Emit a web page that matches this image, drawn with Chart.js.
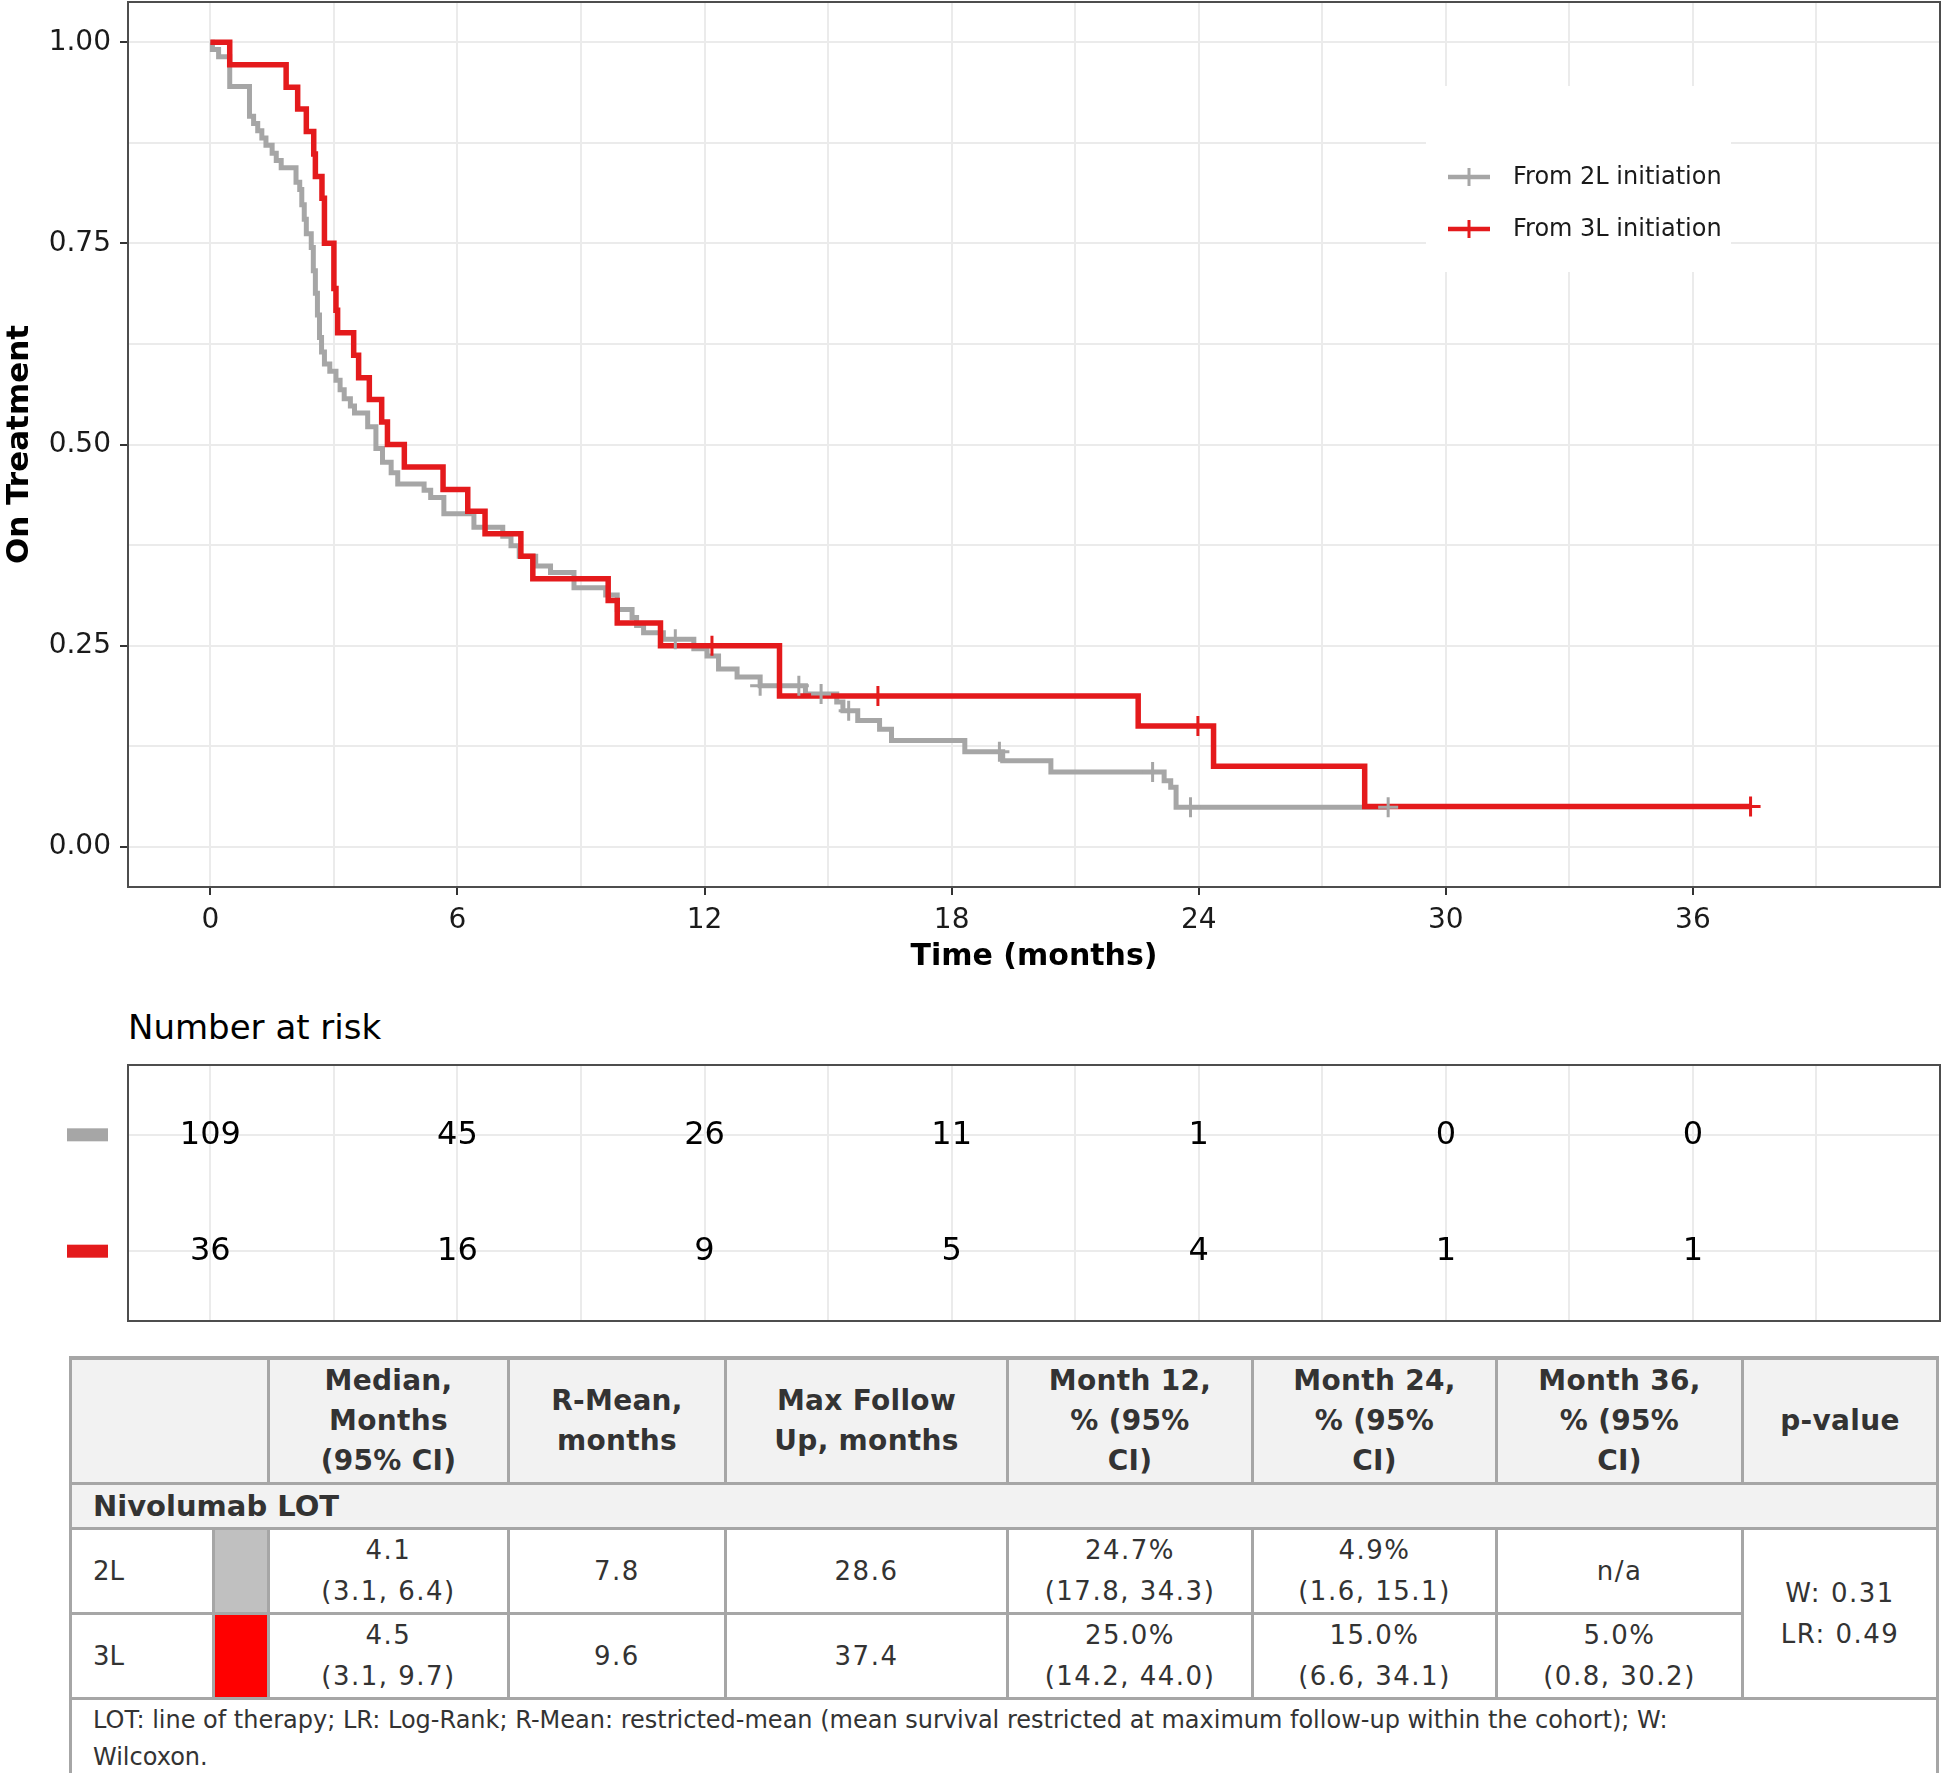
<!DOCTYPE html>
<html>
<head>
<meta charset="utf-8">
<script src="https://cdn.jsdelivr.net/npm/chart.js@4.4.1/dist/chart.umd.min.js"></script>
<style>
  html, body { margin: 0; padding: 0; background: #fff; }
  body { width: 1944px; height: 1773px; position: relative; overflow: hidden; font-family: 'DejaVu Sans', sans-serif; }
  #km { position: absolute; left: 0; top: 0; }
  #riskTitle { position: absolute; left: 128px; top: 1005px; font-size: 34px; line-height: 44px; color: #000; }
  #risk { position: absolute; left: 0; top: 1050px; }
  #summary { position: absolute; left: 69px; top: 1356px; width: 1867px; border-collapse: collapse; table-layout: fixed; color: #333; }
  #summary td, #summary th { border: 3px solid #a6a6a6; padding: 0; text-align: center; vertical-align: middle; white-space: pre-line; }
  #summary th { background: #f2f2f2; font-weight: bold; font-size: 28px; line-height: 40px; letter-spacing: 0.3px; height: 122px; }
  #summary td { font-size: 26px; line-height: 41px; letter-spacing: 1.5px; height: 80px; }
  #summary tr.grp td { background: #f2f2f2; font-weight: bold; text-align: left; padding-left: 21px; font-size: 29px; letter-spacing: 0; height: 42px; line-height: 42px; }
  #summary td.lbl { text-align: left; padding-left: 21px; letter-spacing: 0; }
  #summary tr.foot td { text-align: left; padding: 2px 0 0 21px; font-size: 24px; line-height: 37px; letter-spacing: 0; vertical-align: top; height: 68px; }
  #summary thead tr th { border-top-width: 4px; }
</style>
</head>
<body>
<canvas id="km" width="1944" height="1000"></canvas>
<div id="riskTitle">Number at risk</div>
<canvas id="risk" width="1944" height="280"></canvas>
<table id="summary"></table>
<script>
// Kaplan-Meier step points (month of drop, proportion still on treatment after the drop)
const months2L = [0, 0.05, 0.2, 0.47, 0.95, 1.05, 1.15, 1.25, 1.35, 1.5, 1.6, 1.72, 2.08, 2.17, 2.22, 2.28, 2.33,
  2.45, 2.5, 2.55, 2.6, 2.65, 2.7, 2.77, 2.9, 3.05, 3.15, 3.25, 3.4, 3.5, 3.82, 4.02, 4.18, 4.39, 4.55,
  5.19, 5.35, 5.67, 6.4, 7.1, 7.3, 7.5, 7.9, 8.26, 8.83, 9.6, 9.88, 10.24, 10.35, 10.52, 11.0, 11.74,
  12.06, 12.34, 12.79, 13.35, 14.45, 15.21, 15.36, 15.72, 16.25, 16.54, 18.32, 19.24, 20.41, 23.16, 23.32, 23.45];
const surv2L = [1, 0.991, 0.982, 0.945, 0.908, 0.899, 0.890, 0.881, 0.872, 0.862, 0.853, 0.844, 0.826, 0.817, 0.798, 0.780, 0.762,
  0.745, 0.716, 0.688, 0.661, 0.633, 0.615, 0.600, 0.591, 0.580, 0.568, 0.557, 0.548, 0.539, 0.522, 0.495, 0.478, 0.465, 0.451,
  0.443, 0.434, 0.414, 0.397, 0.386, 0.374, 0.361, 0.349, 0.341, 0.322, 0.313, 0.295, 0.285, 0.275, 0.266, 0.258, 0.246,
  0.237, 0.221, 0.211, 0.200, 0.190, 0.180, 0.169, 0.157, 0.146, 0.132, 0.118, 0.107, 0.093, 0.082, 0.074, 0.049];
const censor2L = [11.29, 13.35, 14.29, 14.83, 15.5, 19.16, 22.88, 23.8, 28.6];

const months3L = [0, 0.47, 1.84, 2.12, 2.33, 2.51, 2.55, 2.71, 2.77, 3.0, 3.05, 3.09, 3.48, 3.6, 3.86, 4.16, 4.3,
  4.71, 5.65, 6.25, 6.67, 7.54, 7.83, 9.66, 9.88, 10.93, 13.82, 22.53, 24.36, 28.03];
const surv3L = [1, 0.972, 0.944, 0.917, 0.889, 0.861, 0.833, 0.806, 0.75, 0.694, 0.667, 0.639, 0.611, 0.583, 0.556, 0.528, 0.5,
  0.472, 0.444, 0.417, 0.389, 0.361, 0.333, 0.306, 0.278, 0.25, 0.1875, 0.15, 0.1, 0.05];
const censor3L = [12.18, 16.21, 23.98, 37.4];

const groupLabels = ['From 2L initiation', 'From 3L initiation'];

// axis ticks
const monthTicks = [0, 6, 12, 18, 24, 30, 36];
const minorMonthTicks = [3, 9, 15, 21, 27, 33, 39];
const survTicks = [0, 0.25, 0.5, 0.75, 1];
const minorSurvTicks = [0.125, 0.375, 0.625, 0.875];

// number at risk
const riskTimes = [0, 6, 12, 18, 24, 30, 36];
const risk2L = [109, 45, 26, 11, 1, 0, 0];
const risk3L = [36, 16, 9, 5, 4, 1, 1];

// summary table
const tableHeaders = ['Median,\nMonths\n(95% CI)', 'R-Mean,\nmonths', 'Max Follow\nUp, months',
  'Month 12,\n% (95%\nCI)', 'Month 24,\n% (95%\nCI)', 'Month 36,\n% (95%\nCI)', 'p-value'];
const tableGroup = 'Nivolumab LOT';
const row2L = ['4.1\n(3.1, 6.4)', '7.8', '28.6', '24.7%\n(17.8, 34.3)', '4.9%\n(1.6, 15.1)', 'n/a'];
const row3L = ['4.5\n(3.1, 9.7)', '9.6', '37.4', '25.0%\n(14.2, 44.0)', '15.0%\n(6.6, 34.1)', '5.0%\n(0.8, 30.2)'];
const pValueText = 'W: 0.31\nLR: 0.49';
const footnote = 'LOT: line of therapy; LR: Log-Rank; R-Mean: restricted-mean (mean survival restricted at maximum follow-up within the cohort); W:\nWilcoxon.';

const GRAY = '#a6a6a6';
const RED = '#e41a1c';
const GRID = '#ebebeb';

Chart.defaults.font.family = "'DejaVu Sans', sans-serif";

function stepPoints(times, surv, end) {
  const pts = times.map((t, i) => ({x: t, y: surv[i]}));
  pts.push({x: end, y: surv[surv.length - 1]});
  return pts;
}

function survAt(times, surv, t) {
  let s = surv[0];
  for (let i = 0; i < times.length; i++) {
    if (times[i] <= t) s = surv[i];
  }
  return s;
}

const allMonthTicks = monthTicks.concat(minorMonthTicks).sort((a, b) => a - b);
const allSurvTicks = survTicks.concat(minorSurvTicks).sort((a, b) => a - b);

// keep chart area fixed: no extra room reserved for edge labels
function fixX(h) {
  return s => { s.height = h; s.paddingLeft = 0; s.paddingRight = 0; };
}
function fixY(w) {
  return s => { s.width = w; s.paddingTop = 0; s.paddingBottom = 0; };
}

// frame around the plotting panel
const panelFrame = {
  id: 'panelFrame',
  afterDraw(chart) {
    const a = chart.chartArea;
    const ctx = chart.ctx;
    ctx.save();
    ctx.strokeStyle = '#4d4d4d';
    ctx.lineWidth = 2;
    ctx.strokeRect(a.left, a.top, a.right - a.left, a.bottom - a.top);
    ctx.restore();
  }
};

// legend box inside the panel
const kmLegend = {
  id: 'kmLegend',
  beforeDatasetsDraw(chart) {
    const ctx = chart.ctx;
    ctx.save();
    ctx.fillStyle = '#ffffff';
    ctx.fillRect(1426, 86, 305, 186);
    const items = [{label: groupLabels[0], color: GRAY, y: 177}, {label: groupLabels[1], color: RED, y: 229}];
    items.forEach(it => {
      ctx.strokeStyle = it.color;
      ctx.lineWidth = 4.5;
      ctx.beginPath();
      ctx.moveTo(1448, it.y);
      ctx.lineTo(1490, it.y);
      ctx.stroke();
      ctx.lineWidth = 3;
      ctx.beginPath();
      ctx.moveTo(1469, it.y - 9);
      ctx.lineTo(1469, it.y + 9);
      ctx.stroke();
      ctx.fillStyle = '#1a1a1a';
      ctx.font = "24px 'DejaVu Sans'";
      ctx.textAlign = 'left';
      ctx.textBaseline = 'middle';
      ctx.fillText(it.label, 1513, it.y + 1);
    });
    ctx.restore();
  }
};

const gridOpts = {
  color: GRID,
  lineWidth: 2,
  tickLength: 8,
  tickWidth: 2
};

new Chart(document.getElementById('km'), {
  type: 'line',
  data: {
    datasets: [
      {
        label: groupLabels[1] + ' censored',
        data: censor3L.map(t => ({x: t, y: survAt(months3L, surv3L, t)})),
        showLine: false, pointStyle: 'cross', pointRadius: 10, pointBorderWidth: 3,
        borderColor: RED, backgroundColor: RED, order: 0
      },
      {
        label: groupLabels[0] + ' censored',
        data: censor2L.map(t => ({x: t, y: survAt(months2L, surv2L, t)})),
        showLine: false, pointStyle: 'cross', pointRadius: 10, pointBorderWidth: 3,
        borderColor: GRAY, backgroundColor: GRAY, order: 1
      },
      {
        label: groupLabels[1],
        data: stepPoints(months3L, surv3L, censor3L[censor3L.length - 1]),
        stepped: true, borderColor: RED, borderWidth: 5.5, pointRadius: 0, fill: false, order: 2
      },
      {
        label: groupLabels[0],
        data: stepPoints(months2L, surv2L, censor2L[censor2L.length - 1]),
        stepped: true, borderColor: GRAY, borderWidth: 5, pointRadius: 0, fill: false, order: 3
      }
    ]
  },
  options: {
    responsive: false,
    animation: false,
    events: [],
    layout: {autoPadding: false, padding: {left: 0, right: 4, top: 2, bottom: 0}},
    scales: {
      x: {
        type: 'linear', min: -2, max: 42,
        afterBuildTicks: s => { s.ticks = allMonthTicks.map(v => ({value: v})); },
        afterFit: fixX(113),
        ticks: {
          autoSkip: false, maxRotation: 0, padding: 9, color: '#1a1a1a', font: {size: 28},
          callback: v => monthTicks.includes(v) ? String(v) : ''
        },
        grid: Object.assign({}, gridOpts, {
          tickColor: c => (c.tick && monthTicks.includes(c.tick.value)) ? '#333333' : 'rgba(0,0,0,0)'
        }),
        border: {display: false},
        title: {display: true, text: 'Time (months)', color: '#000', font: {size: 30, weight: 'bold'}, padding: {top: 0, bottom: 25}}
      },
      y: {
        type: 'linear', min: -0.05, max: 1.05,
        afterBuildTicks: s => { s.ticks = allSurvTicks.map(v => ({value: v})); },
        afterFit: fixY(128),
        ticks: {
          autoSkip: false, padding: 9, color: '#1a1a1a', font: {size: 28},
          callback: v => survTicks.includes(v) ? v.toFixed(2) : ''
        },
        grid: Object.assign({}, gridOpts, {
          tickColor: c => (c.tick && survTicks.includes(c.tick.value)) ? '#333333' : 'rgba(0,0,0,0)'
        }),
        border: {display: false},
        title: {display: true, text: 'On Treatment', color: '#000', font: {size: 31, weight: 'bold'}, padding: {top: 1, bottom: 0}}
      }
    },
    plugins: {legend: {display: false}, tooltip: {enabled: false}}
  },
  plugins: [kmLegend, panelFrame]
});

// numbers at risk, placed with the chart's own scales
const riskText = {
  id: 'riskText',
  afterDatasetsDraw(chart) {
    const ctx = chart.ctx;
    ctx.save();
    chart.data.datasets.forEach((ds, i) => {
      const meta = chart.getDatasetMeta(i);
      const yRow = chart.scales.y.getPixelForValue(ds.data[0].y);
      ctx.fillStyle = ds.borderColor;
      ctx.fillRect(67, yRow - 6.5, 41, 13);
      ctx.fillStyle = '#000';
      ctx.font = "32px 'DejaVu Sans'";
      ctx.textAlign = 'center';
      ctx.textBaseline = 'middle';
      meta.data.forEach((pt, j) => {
        ctx.fillText(String(ds.data[j].n), pt.x, pt.y + 1);
      });
    });
    ctx.restore();
  }
};

new Chart(document.getElementById('risk'), {
  type: 'scatter',
  data: {
    datasets: [
      {label: '2L', data: riskTimes.map((t, i) => ({x: t, y: 2, n: risk2L[i]})), pointRadius: 0, borderColor: GRAY},
      {label: '3L', data: riskTimes.map((t, i) => ({x: t, y: 1, n: risk3L[i]})), pointRadius: 0, borderColor: RED}
    ]
  },
  options: {
    responsive: false,
    animation: false,
    events: [],
    layout: {autoPadding: false, padding: {left: 0, right: 4, top: 15, bottom: 9}},
    scales: {
      x: {
        type: 'linear', min: -2, max: 42,
        afterBuildTicks: s => { s.ticks = allMonthTicks.map(v => ({value: v})); },
        afterFit: fixX(0),
        ticks: {display: false},
        grid: {color: GRID, lineWidth: 2, drawTicks: false},
        border: {display: false}
      },
      y: {
        type: 'linear', min: 0.4, max: 2.6,
        afterBuildTicks: s => { s.ticks = [{value: 1}, {value: 2}]; },
        afterFit: fixY(128),
        ticks: {display: false},
        grid: {color: GRID, lineWidth: 2, drawTicks: false},
        border: {display: false}
      }
    },
    plugins: {legend: {display: false}, tooltip: {enabled: false}}
  },
  plugins: [riskText, panelFrame]
});

// summary table
function buildTable() {
  const t = document.getElementById('summary');
  const widths = [143, 55, 240, 217, 282, 245, 244, 246, 195];
  let html = '<colgroup>' + widths.map(w => '<col style="width:' + w + 'px">').join('') + '</colgroup>';
  html += '<thead><tr><th colspan="2"></th>' + tableHeaders.map(h => '<th>' + h + '</th>').join('') + '</tr></thead><tbody>';
  html += '<tr class="grp"><td colspan="9">' + tableGroup + '</td></tr>';
  html += '<tr><td class="lbl">2L</td><td style="background:#c0c0c0"></td>' + row2L.map(c => '<td>' + c + '</td>').join('') +
    '<td rowspan="2">' + pValueText + '</td></tr>';
  html += '<tr><td class="lbl">3L</td><td style="background:#ff0000"></td>' + row3L.map(c => '<td>' + c + '</td>').join('') + '</tr>';
  html += '<tr class="foot"><td colspan="9">' + footnote + '</td></tr></tbody>';
  t.innerHTML = html;
}
buildTable();
</script>
</body>
</html>
